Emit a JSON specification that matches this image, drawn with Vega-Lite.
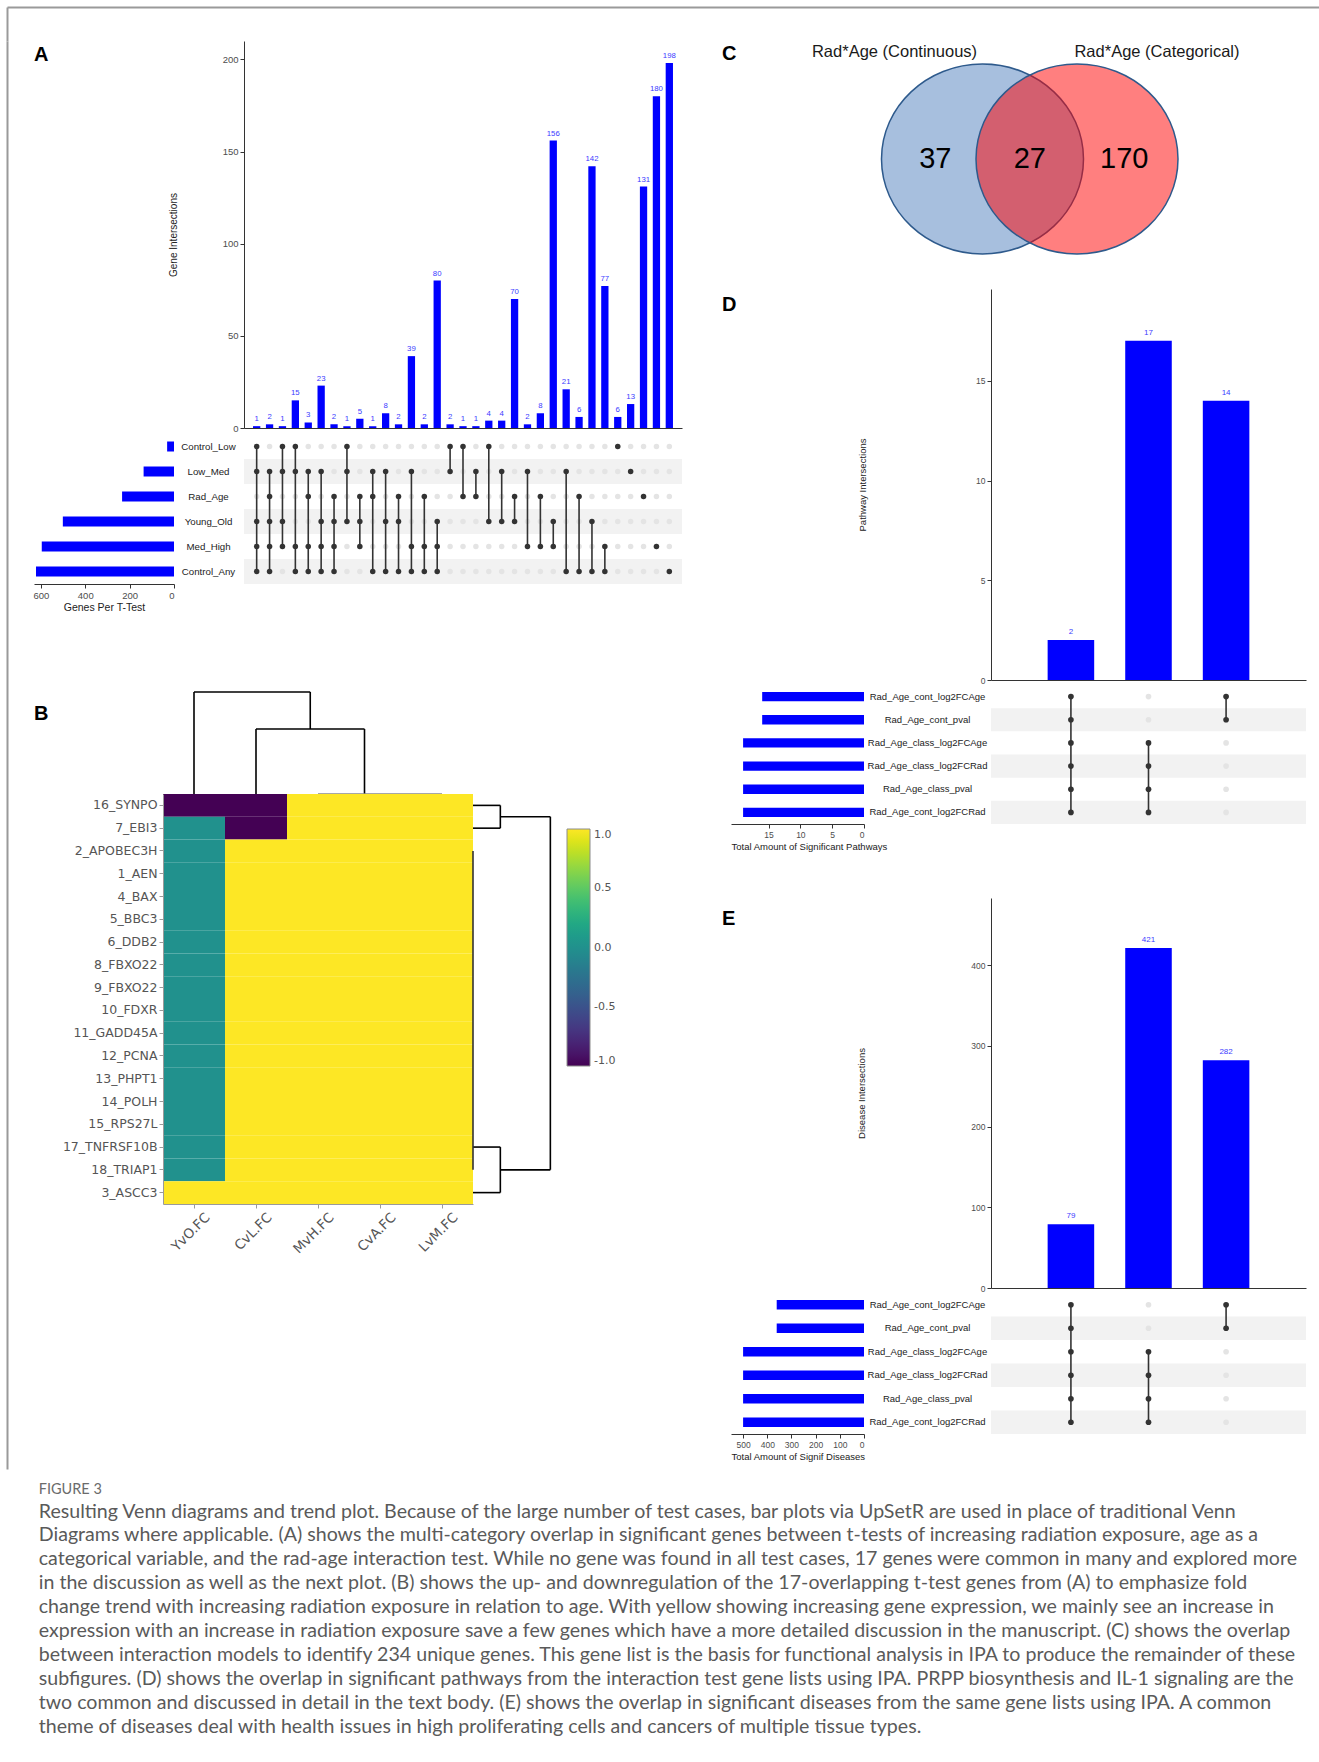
{
"$schema": "https://vega.github.io/schema/vega-lite/v6.json",
"padding": {"left": 4, "top": 7, "right": 0, "bottom": 10},
"background": "white",
"config": {
 "view": {"stroke": null},
 "font": "Liberation Sans",
 "text": {"font": "Liberation Sans"},
 "axis": {"labelFont": "Liberation Sans", "titleFont": "Liberation Sans", "labelFontSize": 9.5, "titleFontSize": 10, "labelColor": "#4d4d4d", "titleColor": "#222222", "titleFontWeight": "normal", "domainColor": "#333333", "tickColor": "#333333", "grid": false, "tickSize": 4, "labelPadding": 2}
},
"datasets": {
 "frame": [{"v": 0}],
 "a_combos": [
  {"col":1,"count":1,"Control_Low":1,"Low_Med":1,"Rad_Age":0,"Young_Old":1,"Med_High":1,"Control_Any":1},
  {"col":2,"count":2,"Control_Low":0,"Low_Med":1,"Rad_Age":1,"Young_Old":1,"Med_High":1,"Control_Any":1},
  {"col":3,"count":1,"Control_Low":1,"Low_Med":1,"Rad_Age":0,"Young_Old":1,"Med_High":1,"Control_Any":0},
  {"col":4,"count":15,"Control_Low":1,"Low_Med":1,"Rad_Age":0,"Young_Old":0,"Med_High":1,"Control_Any":1},
  {"col":5,"count":3,"Control_Low":0,"Low_Med":1,"Rad_Age":1,"Young_Old":0,"Med_High":1,"Control_Any":1},
  {"col":6,"count":23,"Control_Low":0,"Low_Med":1,"Rad_Age":0,"Young_Old":1,"Med_High":1,"Control_Any":1},
  {"col":7,"count":2,"Control_Low":0,"Low_Med":0,"Rad_Age":1,"Young_Old":1,"Med_High":1,"Control_Any":1},
  {"col":8,"count":1,"Control_Low":1,"Low_Med":1,"Rad_Age":0,"Young_Old":1,"Med_High":0,"Control_Any":0},
  {"col":9,"count":5,"Control_Low":0,"Low_Med":0,"Rad_Age":1,"Young_Old":1,"Med_High":1,"Control_Any":0},
  {"col":10,"count":1,"Control_Low":0,"Low_Med":1,"Rad_Age":1,"Young_Old":0,"Med_High":0,"Control_Any":1},
  {"col":11,"count":8,"Control_Low":0,"Low_Med":1,"Rad_Age":0,"Young_Old":1,"Med_High":0,"Control_Any":1},
  {"col":12,"count":2,"Control_Low":0,"Low_Med":0,"Rad_Age":1,"Young_Old":1,"Med_High":0,"Control_Any":1},
  {"col":13,"count":39,"Control_Low":0,"Low_Med":1,"Rad_Age":0,"Young_Old":0,"Med_High":1,"Control_Any":1},
  {"col":14,"count":2,"Control_Low":0,"Low_Med":0,"Rad_Age":1,"Young_Old":0,"Med_High":1,"Control_Any":1},
  {"col":15,"count":80,"Control_Low":0,"Low_Med":0,"Rad_Age":0,"Young_Old":1,"Med_High":1,"Control_Any":1},
  {"col":16,"count":2,"Control_Low":1,"Low_Med":1,"Rad_Age":0,"Young_Old":0,"Med_High":0,"Control_Any":0},
  {"col":17,"count":1,"Control_Low":1,"Low_Med":0,"Rad_Age":1,"Young_Old":0,"Med_High":0,"Control_Any":0},
  {"col":18,"count":1,"Control_Low":0,"Low_Med":1,"Rad_Age":1,"Young_Old":0,"Med_High":0,"Control_Any":0},
  {"col":19,"count":4,"Control_Low":1,"Low_Med":0,"Rad_Age":0,"Young_Old":1,"Med_High":0,"Control_Any":0},
  {"col":20,"count":4,"Control_Low":0,"Low_Med":1,"Rad_Age":0,"Young_Old":1,"Med_High":0,"Control_Any":0},
  {"col":21,"count":70,"Control_Low":0,"Low_Med":0,"Rad_Age":1,"Young_Old":1,"Med_High":0,"Control_Any":0},
  {"col":22,"count":2,"Control_Low":0,"Low_Med":1,"Rad_Age":0,"Young_Old":0,"Med_High":1,"Control_Any":0},
  {"col":23,"count":8,"Control_Low":0,"Low_Med":0,"Rad_Age":1,"Young_Old":0,"Med_High":1,"Control_Any":0},
  {"col":24,"count":156,"Control_Low":0,"Low_Med":0,"Rad_Age":0,"Young_Old":1,"Med_High":1,"Control_Any":0},
  {"col":25,"count":21,"Control_Low":0,"Low_Med":1,"Rad_Age":0,"Young_Old":0,"Med_High":0,"Control_Any":1},
  {"col":26,"count":6,"Control_Low":0,"Low_Med":0,"Rad_Age":1,"Young_Old":0,"Med_High":0,"Control_Any":1},
  {"col":27,"count":142,"Control_Low":0,"Low_Med":0,"Rad_Age":0,"Young_Old":1,"Med_High":0,"Control_Any":1},
  {"col":28,"count":77,"Control_Low":0,"Low_Med":0,"Rad_Age":0,"Young_Old":0,"Med_High":1,"Control_Any":1},
  {"col":29,"count":6,"Control_Low":1,"Low_Med":0,"Rad_Age":0,"Young_Old":0,"Med_High":0,"Control_Any":0},
  {"col":30,"count":13,"Control_Low":0,"Low_Med":1,"Rad_Age":0,"Young_Old":0,"Med_High":0,"Control_Any":0},
  {"col":31,"count":131,"Control_Low":0,"Low_Med":0,"Rad_Age":1,"Young_Old":0,"Med_High":0,"Control_Any":0},
  {"col":32,"count":180,"Control_Low":0,"Low_Med":0,"Rad_Age":0,"Young_Old":0,"Med_High":1,"Control_Any":0},
  {"col":33,"count":198,"Control_Low":0,"Low_Med":0,"Rad_Age":0,"Young_Old":0,"Med_High":0,"Control_Any":1}
 ],
 "a_sets": [
  {"set":"Control_Low","order":0,"size":31},
  {"set":"Low_Med","order":1,"size":137},
  {"set":"Rad_Age","order":2,"size":234},
  {"set":"Young_Old","order":3,"size":501},
  {"set":"Med_High","order":4,"size":596},
  {"set":"Control_Any","order":5,"size":622}
 ],
 "d_combos": [
  {"col":1,"count":2,"Rad_Age_cont_log2FCAge":1,"Rad_Age_cont_pval":1,"Rad_Age_class_log2FCAge":1,"Rad_Age_class_log2FCRad":1,"Rad_Age_class_pval":1,"Rad_Age_cont_log2FCRad":1},
  {"col":2,"count":17,"Rad_Age_cont_log2FCAge":0,"Rad_Age_cont_pval":0,"Rad_Age_class_log2FCAge":1,"Rad_Age_class_log2FCRad":1,"Rad_Age_class_pval":1,"Rad_Age_cont_log2FCRad":1},
  {"col":3,"count":14,"Rad_Age_cont_log2FCAge":1,"Rad_Age_cont_pval":1,"Rad_Age_class_log2FCAge":0,"Rad_Age_class_log2FCRad":0,"Rad_Age_class_pval":0,"Rad_Age_cont_log2FCRad":0}
 ],
 "d_sets": [
  {"set":"Rad_Age_cont_log2FCAge","order":0,"size":16},
  {"set":"Rad_Age_cont_pval","order":1,"size":16},
  {"set":"Rad_Age_class_log2FCAge","order":2,"size":19},
  {"set":"Rad_Age_class_log2FCRad","order":3,"size":19},
  {"set":"Rad_Age_class_pval","order":4,"size":19},
  {"set":"Rad_Age_cont_log2FCRad","order":5,"size":19}
 ],
 "e_combos": [
  {"col":1,"count":79,"Rad_Age_cont_log2FCAge":1,"Rad_Age_cont_pval":1,"Rad_Age_class_log2FCAge":1,"Rad_Age_class_log2FCRad":1,"Rad_Age_class_pval":1,"Rad_Age_cont_log2FCRad":1},
  {"col":2,"count":421,"Rad_Age_cont_log2FCAge":0,"Rad_Age_cont_pval":0,"Rad_Age_class_log2FCAge":1,"Rad_Age_class_log2FCRad":1,"Rad_Age_class_pval":1,"Rad_Age_cont_log2FCRad":1},
  {"col":3,"count":282,"Rad_Age_cont_log2FCAge":1,"Rad_Age_cont_pval":1,"Rad_Age_class_log2FCAge":0,"Rad_Age_class_log2FCRad":0,"Rad_Age_class_pval":0,"Rad_Age_cont_log2FCRad":0}
 ],
 "e_sets": [
  {"set":"Rad_Age_cont_log2FCAge","order":0,"size":361},
  {"set":"Rad_Age_cont_pval","order":1,"size":361},
  {"set":"Rad_Age_class_log2FCAge","order":2,"size":500},
  {"set":"Rad_Age_class_log2FCRad","order":3,"size":500},
  {"set":"Rad_Age_class_pval","order":4,"size":500},
  {"set":"Rad_Age_cont_log2FCRad","order":5,"size":500}
 ],
 "b_heat": [
  {"gene":"16_SYNPO","YvO_FC":-1,"CvL_FC":-1,"MvH_FC":1,"CvA_FC":1,"LvM_FC":1},
  {"gene":"7_EBI3","YvO_FC":0,"CvL_FC":-1,"MvH_FC":1,"CvA_FC":1,"LvM_FC":1},
  {"gene":"2_APOBEC3H","YvO_FC":0,"CvL_FC":1,"MvH_FC":1,"CvA_FC":1,"LvM_FC":1},
  {"gene":"1_AEN","YvO_FC":0,"CvL_FC":1,"MvH_FC":1,"CvA_FC":1,"LvM_FC":1},
  {"gene":"4_BAX","YvO_FC":0,"CvL_FC":1,"MvH_FC":1,"CvA_FC":1,"LvM_FC":1},
  {"gene":"5_BBC3","YvO_FC":0,"CvL_FC":1,"MvH_FC":1,"CvA_FC":1,"LvM_FC":1},
  {"gene":"6_DDB2","YvO_FC":0,"CvL_FC":1,"MvH_FC":1,"CvA_FC":1,"LvM_FC":1},
  {"gene":"8_FBXO22","YvO_FC":0,"CvL_FC":1,"MvH_FC":1,"CvA_FC":1,"LvM_FC":1},
  {"gene":"9_FBXO22","YvO_FC":0,"CvL_FC":1,"MvH_FC":1,"CvA_FC":1,"LvM_FC":1},
  {"gene":"10_FDXR","YvO_FC":0,"CvL_FC":1,"MvH_FC":1,"CvA_FC":1,"LvM_FC":1},
  {"gene":"11_GADD45A","YvO_FC":0,"CvL_FC":1,"MvH_FC":1,"CvA_FC":1,"LvM_FC":1},
  {"gene":"12_PCNA","YvO_FC":0,"CvL_FC":1,"MvH_FC":1,"CvA_FC":1,"LvM_FC":1},
  {"gene":"13_PHPT1","YvO_FC":0,"CvL_FC":1,"MvH_FC":1,"CvA_FC":1,"LvM_FC":1},
  {"gene":"14_POLH","YvO_FC":0,"CvL_FC":1,"MvH_FC":1,"CvA_FC":1,"LvM_FC":1},
  {"gene":"15_RPS27L","YvO_FC":0,"CvL_FC":1,"MvH_FC":1,"CvA_FC":1,"LvM_FC":1},
  {"gene":"17_TNFRSF10B","YvO_FC":0,"CvL_FC":1,"MvH_FC":1,"CvA_FC":1,"LvM_FC":1},
  {"gene":"18_TRIAP1","YvO_FC":0,"CvL_FC":1,"MvH_FC":1,"CvA_FC":1,"LvM_FC":1},
  {"gene":"3_ASCC3","YvO_FC":1,"CvL_FC":1,"MvH_FC":1,"CvA_FC":1,"LvM_FC":1}
 ],
 "b_dtop": [
  {"x":0.5,"x2":0.5,"y":0,"y2":3.14,"kind":"merge"},
  {"x":0.5,"x2":2.375,"y":3.14,"y2":3.14,"kind":"merge"},
  {"x":2.375,"x2":2.375,"y":2,"y2":3.14,"kind":"merge"},
  {"x":1.5,"x2":1.5,"y":0,"y2":2,"kind":"merge"},
  {"x":1.5,"x2":3.25,"y":2,"y2":2,"kind":"merge"},
  {"x":3.25,"x2":3.25,"y":0,"y2":2,"kind":"merge"},
  {"x":2.5,"x2":4.5,"y":0,"y2":0,"kind":"tie"}
 ],
 "b_dright": [
  {"x":0,"x2":1,"y":0.5,"y2":0.5,"kind":"merge"},
  {"x":0,"x2":1,"y":1.5,"y2":1.5,"kind":"merge"},
  {"x":1,"x2":1,"y":0.5,"y2":1.5,"kind":"merge"},
  {"x":1,"x2":2.83,"y":1,"y2":1,"kind":"merge"},
  {"x":2.83,"x2":2.83,"y":1,"y2":16.5,"kind":"merge"},
  {"x":1,"x2":2.83,"y":16.5,"y2":16.5,"kind":"merge"},
  {"x":1,"x2":1,"y":15.5,"y2":17.5,"kind":"merge"},
  {"x":0,"x2":1,"y":15.5,"y2":15.5,"kind":"merge"},
  {"x":0,"x2":1,"y":17.5,"y2":17.5,"kind":"merge"},
  {"x":0,"x2":0,"y":2.5,"y2":16.5,"kind":"tie"}
 ],
 "venn_sets": [
  {"set":"Continuous","region":"cont","title":"Rad*Age (Continuous)"},
  {"set":"Categorical","region":"cat","title":"Rad*Age (Categorical)"}
 ],
 "venn_counts": [
  {"region":"cont_only","genes":37},
  {"region":"both","genes":27},
  {"region":"cat_only","genes":170}
 ]
},
"title": {
 "text": "FIGURE 3",
 "subtitle": [
  "Resulting Venn diagrams and trend plot. Because of the large number of test cases, bar plots via UpSetR are used in place of traditional Venn",
  "Diagrams where applicable. (A) shows the multi-category overlap in significant genes between t-tests of increasing radiation exposure, age as a",
  "categorical variable, and the rad-age interaction test. While no gene was found in all test cases, 17 genes were common in many and explored more",
  "in the discussion as well as the next plot. (B) shows the up- and downregulation of the 17-overlapping t-test genes from (A) to emphasize fold",
  "change trend with increasing radiation exposure in relation to age. With yellow showing increasing gene expression, we mainly see an increase in",
  "expression with an increase in radiation exposure save a few genes which have a more detailed discussion in the manuscript. (C) shows the overlap",
  "between interaction models to identify 234 unique genes. This gene list is the basis for functional analysis in IPA to produce the remainder of these",
  "subfigures. (D) shows the overlap in significant pathways from the interaction test gene lists using IPA. PRPP biosynthesis and IL-1 signaling are the",
  "two common and discussed in detail in the text body. (E) shows the overlap in significant diseases from the same gene lists using IPA. A common",
  "theme of diseases deal with health issues in high proliferating cells and cancers of multiple tissue types."
 ],
 "orient": "bottom", "anchor": "start", "frame": "bounds", "offset": 14, "dx": 34,
 "font": "Lato", "fontSize": 14.5, "fontWeight": "normal", "color": "#6b6b6b",
 "subtitleFont": "Lato", "subtitleFontSize": 19.6, "subtitleColor": "#5a5a5a", "subtitlePadding": 5, "subtitleLineHeight": 23.9
},
"spacing": 0,
"vconcat": [
 {"width": 1313, "height": 34, "data": {"name": "frame"},
  "mark": {"type": "point", "opacity": 0},
  "encoding": {
   "x": {"field": "v", "type": "quantitative", "axis": {"orient": "top", "labels": false, "ticks": false, "title": null, "domainColor": "#9a9a9a", "domainWidth": 2}},
   "y": {"field": "v", "type": "quantitative", "axis": {"orient": "left", "labels": false, "ticks": false, "title": null, "domainColor": "#9a9a9a", "domainWidth": 2}}
  }},
 {
  "spacing": 21,
  "hconcat": [
   {"width": 1, "height": 1428, "data": {"name": "frame"},
    "mark": {"type": "point", "opacity": 0},
    "encoding": {
     "y": {"field": "v", "type": "quantitative", "axis": {"orient": "left", "labels": false, "ticks": false, "title": null, "domainColor": "#9a9a9a", "domainWidth": 2}}
    }},
   {
    "spacing": 40,
    "hconcat": [
     {
      "spacing": 78,
      "vconcat": [
       {
        "columns": 2, "bounds": "flush", "spacing": {"row": 6, "column": 70},
        "concat": [
         {"width": 140, "height": 387, "data": {"values": []}, "mark": "point",
          "title": {"text": "A", "anchor": "start", "frame": "group", "baseline": "top", "offset": 0, "dy": 23.5, "fontSize": 20, "font": "Liberation Sans", "fontWeight": "bold", "color": "#000000"}},
         {"width": 438, "height": 387, "data": {"name": "a_combos"},
          "encoding": {
           "x": {"field": "col", "type": "ordinal", "scale": {"type": "band", "paddingInner": 0.435, "paddingOuter": 0.7}, "axis": {"title": null, "labels": false, "ticks": false, "domain": true}},
           "y": {"field": "count", "type": "quantitative", "scale": {"domain": [0, 210], "nice": false}, "axis": {"values": [0, 50, 100, 150, 200], "title": "Gene Intersections", "titlePadding": 44}}
          },
          "layer": [
           {"mark": {"type": "bar", "color": "#0000ff"}},
           {"mark": {"type": "text", "color": "#3c3cff", "fontSize": 7.8, "baseline": "bottom", "dy": -3}, "encoding": {"text": {"field": "count", "type": "quantitative"}}}
          ]},
         {"width": 140, "height": 150, "data": {"name": "a_sets"},
          "mark": {"type": "bar", "color": "#0000ff"},
          "encoding": {
           "y": {"field": "set", "type": "nominal", "scale": {"domain": ["Control_Low","Low_Med","Rad_Age","Young_Old","Med_High","Control_Any"], "paddingInner": 0.6, "paddingOuter": 0.3}, "axis": {"orient": "right", "title": null, "domain": false, "ticks": false, "tickSize": 0, "labelAlign": "center", "labelPadding": 34, "labelFontSize": 9.7, "labelColor": "#222222"}},
           "x": {"field": "size", "type": "quantitative", "scale": {"domain": [0, 631], "reverse": true, "nice": false}, "axis": {"values": [0, 200, 400, 600], "title": "Genes Per T-Test", "titlePadding": 3, "titleFontSize": 10.5}}
          }},
         {"width": 438, "height": 150,
          "layer": [
           {"data": {"name": "a_sets"}, "transform": [{"filter": "datum.order % 2 == 1"}],
            "mark": {"type": "rect", "color": "#f2f2f2"},
            "encoding": {"y": {"field": "set", "type": "nominal", "scale": {"type": "band", "domain": ["Control_Low","Low_Med","Rad_Age","Young_Old","Med_High","Control_Any"], "paddingInner": 0, "paddingOuter": 0}, "axis": null}}},
           {"data": {"name": "a_combos"}, "transform": [{"fold": ["Control_Low","Low_Med","Rad_Age","Young_Old","Med_High","Control_Any"], "as": ["set", "member"]}],
            "mark": {"type": "circle", "color": "#e4e4e4", "size": 30, "opacity": 1},
            "encoding": {"x": {"field": "col", "type": "ordinal", "scale": {"type": "band", "paddingInner": 0.435, "paddingOuter": 0.7}, "axis": null}, "y": {"field": "set", "type": "nominal"}}},
           {"data": {"name": "a_combos"}, "transform": [{"fold": ["Control_Low","Low_Med","Rad_Age","Young_Old","Med_High","Control_Any"], "as": ["set", "member"]}, {"filter": "datum.member == 1"}, {"lookup": "set", "from": {"data": {"name": "a_sets"}, "key": "set", "fields": ["order"]}}, {"aggregate": [{"op": "argmin", "field": "order", "as": "first"}, {"op": "argmax", "field": "order", "as": "last"}], "groupby": ["col"]}],
            "mark": {"type": "rule", "color": "#333333", "strokeWidth": 1.6},
            "encoding": {"x": {"field": "col", "type": "ordinal"}, "y": {"field": "first.set", "type": "nominal"}, "y2": {"field": "last.set"}}},
           {"data": {"name": "a_combos"}, "transform": [{"fold": ["Control_Low","Low_Med","Rad_Age","Young_Old","Med_High","Control_Any"], "as": ["set", "member"]}, {"filter": "datum.member == 1"}],
            "mark": {"type": "circle", "color": "#333333", "size": 30, "opacity": 1},
            "encoding": {"x": {"field": "col", "type": "ordinal"}, "y": {"field": "set", "type": "nominal"}}}
          ]}
        ]
       },
       {
        "columns": 3, "bounds": "flush", "spacing": 0,
        "concat": [
         {"width": 129, "height": 102, "data": {"values": []}, "mark": "point",
          "title": {"text": "B", "anchor": "start", "frame": "group", "baseline": "top", "offset": 0, "dy": 31.5, "fontSize": 20, "font": "Liberation Sans", "fontWeight": "bold", "color": "#000000"}},
         {"width": 310, "height": 102, "data": {"name": "b_dtop"},
          "mark": {"type": "rule", "strokeWidth": 1.6},
          "encoding": {
           "x": {"field": "x", "type": "quantitative", "scale": {"domain": [0, 5], "nice": false, "zero": false}, "axis": null},
           "x2": {"field": "x2"},
           "y": {"field": "y", "type": "quantitative", "scale": {"domain": [0, 3.14], "nice": false}, "axis": null},
           "y2": {"field": "y2"},
           "color": {"field": "kind", "type": "nominal", "scale": {"domain": ["merge", "tie"], "range": ["#000000", "#8a8a8a"]}, "legend": null}
          }},
         {"width": 82, "height": 102, "data": {"values": []}, "mark": "point"},
         {"width": 129, "height": 410, "data": {"values": []}, "mark": "point"},
         {"width": 310, "height": 410, "data": {"name": "b_heat"},
          "transform": [{"fold": ["YvO_FC","CvL_FC","MvH_FC","CvA_FC","LvM_FC"], "as": ["comparison", "value"]}],
          "mark": {"type": "rect"},
          "encoding": {
           "x": {"field": "comparison", "type": "nominal", "scale": {"domain": ["YvO_FC","CvL_FC","MvH_FC","CvA_FC","LvM_FC"], "paddingInner": 0, "paddingOuter": 0},
                 "axis": {"title": null, "labelAngle": -45, "labelAlign": "right", "labelBaseline": "top", "labelOffset": 9, "labelExpr": "replace(datum.label, '_', '.')", "labelFont": "DejaVu Sans", "labelFontSize": 13.5, "labelColor": "#555555", "domainColor": "#9a9a9a", "tickColor": "#9a9a9a"}},
           "y": {"field": "gene", "type": "nominal", "scale": {"domain": ["16_SYNPO","7_EBI3","2_APOBEC3H","1_AEN","4_BAX","5_BBC3","6_DDB2","8_FBXO22","9_FBXO22","10_FDXR","11_GADD45A","12_PCNA","13_PHPT1","14_POLH","15_RPS27L","17_TNFRSF10B","18_TRIAP1","3_ASCC3"], "paddingInner": 0, "paddingOuter": 0},
                 "axis": {"title": null, "labelFont": "DejaVu Sans", "labelFontSize": 12.5, "labelColor": "#555555", "domainColor": "#9a9a9a", "tickColor": "#9a9a9a"}},
           "color": {"field": "value", "type": "quantitative", "scale": {"scheme": "viridis", "domain": [-1, 1]},
                 "legend": {"orient": "none", "legendX": 404, "legendY": 35, "direction": "vertical", "title": null, "gradientLength": 237, "gradientThickness": 23, "values": [-1, -0.5, 0, 0.5, 1], "labelExpr": "datum.value < 0 ? '-' + format(-datum.value, '.1f') : format(datum.value, '.1f')", "labelFont": "DejaVu Sans", "labelFontSize": 11, "labelColor": "#555555", "gradientStrokeColor": "#8c8c8c", "gradientStrokeWidth": 1, "labelOffset": 4}}
          }},
         {"width": 82, "height": 410, "data": {"name": "b_dright"},
          "mark": {"type": "rule", "strokeWidth": 1.6},
          "encoding": {
           "x": {"field": "x", "type": "quantitative", "scale": {"domain": [0, 3], "nice": false, "zero": false}, "axis": null},
           "x2": {"field": "x2"},
           "y": {"field": "y", "type": "quantitative", "scale": {"domain": [0, 18], "nice": false, "reverse": true}, "axis": null},
           "y2": {"field": "y2"},
           "color": {"field": "kind", "type": "nominal", "scale": {"domain": ["merge", "tie"], "range": ["#000000", "#333333"]}, "legend": null}
          }}
        ]
       }
      ]
     },
     {
      "spacing": 12,
      "vconcat": [
       {
        "bounds": "flush", "spacing": 0,
        "hconcat": [
         {"width": 156.75, "height": 236, "data": {"values": []}, "mark": "point",
          "title": {"text": "C", "anchor": "start", "frame": "group", "baseline": "top", "offset": 0, "dy": 22.5, "dx": -9, "fontSize": 20, "font": "Liberation Sans", "fontWeight": "bold", "color": "#000000"}},
         {"width": 283.5, "height": 236,
          "encoding": {"x": {"field": "region", "type": "nominal", "scale": {"type": "point", "domain": ["cont_only","cont","both","cat","cat_only"], "padding": 1}, "axis": null}},
          "layer": [
           {"data": {"name": "venn_sets"},
            "mark": {"type": "point", "shape": "M-1,0C-1,-0.5191,-0.5523,-0.94,0,-0.94C0.5523,-0.94,1,-0.5191,1,0C1,0.5191,0.5523,0.94,0,0.94C-0.5523,0.94,-1,0.5191,-1,0Z", "filled": true, "size": 40804, "opacity": 1, "stroke": "#2e5a8c", "strokeWidth": 1.5},
            "encoding": {
             "fill": {"field": "set", "type": "nominal", "scale": {"domain": ["Continuous", "Categorical"], "range": ["#a7bfde", "#ff0000"]}, "legend": null},
             "fillOpacity": {"field": "set", "type": "nominal", "scale": {"domain": ["Continuous", "Categorical"], "range": [1, 0.5]}, "legend": null}
            }},
           {"data": {"name": "venn_counts"}, "mark": {"type": "text", "fontSize": 29, "color": "#000000"}, "encoding": {"text": {"field": "genes", "type": "quantitative"}}},
           {"data": {"name": "venn_sets"}, "transform": [{"filter": "datum.set == 'Continuous'"}], "mark": {"type": "text", "fontSize": 16.5, "color": "#1a1a1a", "dx": -88, "dy": -107}, "encoding": {"text": {"field": "title"}}},
           {"data": {"name": "venn_sets"}, "transform": [{"filter": "datum.set == 'Categorical'"}], "mark": {"type": "text", "fontSize": 16.5, "color": "#1a1a1a", "dx": 80, "dy": -107}, "encoding": {"text": {"field": "title"}}}
          ]}
        ]
       },
       {
        "columns": 2, "bounds": "flush", "spacing": {"row": 5, "column": 127},
        "concat": [
         {"width": 133, "height": 391, "data": {"values": []}, "mark": "point",
          "title": {"text": "D", "anchor": "start", "frame": "group", "baseline": "top", "offset": 0, "dy": 25.5, "dx": -9, "fontSize": 20, "font": "Liberation Sans", "fontWeight": "bold", "color": "#000000"}},
         {"width": 315, "height": 391, "data": {"name": "d_combos"},
          "encoding": {
           "x": {"field": "col", "type": "ordinal", "scale": {"type": "band", "paddingInner": 0.4, "paddingOuter": 0.73}, "axis": {"title": null, "labels": false, "ticks": false, "domain": true}},
           "y": {"field": "count", "type": "quantitative", "scale": {"domain": [0, 19.6], "nice": false}, "axis": {"values": [0, 5, 10, 15], "title": "Pathway Intersections", "titlePadding": 108, "labelFontSize": 8.5, "titleFontSize": 9.5}}
          },
          "layer": [
           {"mark": {"type": "bar", "color": "#0000ff"}},
           {"mark": {"type": "text", "color": "#3c3cff", "fontSize": 8, "baseline": "bottom", "dy": -4}, "encoding": {"text": {"field": "count", "type": "quantitative"}}}
          ]},
         {"width": 133, "height": 139, "data": {"name": "d_sets"},
          "mark": {"type": "bar", "color": "#0000ff"},
          "encoding": {
           "y": {"field": "set", "type": "nominal", "scale": {"domain": ["Rad_Age_cont_log2FCAge","Rad_Age_cont_pval","Rad_Age_class_log2FCAge","Rad_Age_class_log2FCRad","Rad_Age_class_pval","Rad_Age_cont_log2FCRad"], "paddingInner": 0.6, "paddingOuter": 0.3}, "axis": {"orient": "right", "title": null, "domain": false, "ticks": false, "tickSize": 0, "labelAlign": "center", "labelPadding": 63, "labelFontSize": 9.5, "labelColor": "#222222"}},
           "x": {"field": "size", "type": "quantitative", "scale": {"domain": [0, 20.9], "reverse": true, "nice": false}, "axis": {"values": [0, 5, 10, 15], "title": "Total Amount of Significant Pathways", "titleX": 0, "titleAlign": "left", "titlePadding": 3, "titleFontSize": 9.5, "labelFontSize": 8.5}}
          }},
         {"width": 315, "height": 139,
          "layer": [
           {"data": {"name": "d_sets"}, "transform": [{"filter": "datum.order % 2 == 1"}],
            "mark": {"type": "rect", "color": "#f2f2f2"},
            "encoding": {"y": {"field": "set", "type": "nominal", "scale": {"type": "band", "domain": ["Rad_Age_cont_log2FCAge","Rad_Age_cont_pval","Rad_Age_class_log2FCAge","Rad_Age_class_log2FCRad","Rad_Age_class_pval","Rad_Age_cont_log2FCRad"], "paddingInner": 0, "paddingOuter": 0}, "axis": null}}},
           {"data": {"name": "d_combos"}, "transform": [{"fold": ["Rad_Age_cont_log2FCAge","Rad_Age_cont_pval","Rad_Age_class_log2FCAge","Rad_Age_class_log2FCRad","Rad_Age_class_pval","Rad_Age_cont_log2FCRad"], "as": ["set", "member"]}],
            "mark": {"type": "circle", "color": "#e4e4e4", "size": 32, "opacity": 1},
            "encoding": {"x": {"field": "col", "type": "ordinal", "scale": {"type": "band", "paddingInner": 0.4, "paddingOuter": 0.73}, "axis": null}, "y": {"field": "set", "type": "nominal"}}},
           {"data": {"name": "d_combos"}, "transform": [{"fold": ["Rad_Age_cont_log2FCAge","Rad_Age_cont_pval","Rad_Age_class_log2FCAge","Rad_Age_class_log2FCRad","Rad_Age_class_pval","Rad_Age_cont_log2FCRad"], "as": ["set", "member"]}, {"filter": "datum.member == 1"}, {"lookup": "set", "from": {"data": {"name": "d_sets"}, "key": "set", "fields": ["order"]}}, {"aggregate": [{"op": "argmin", "field": "order", "as": "first"}, {"op": "argmax", "field": "order", "as": "last"}], "groupby": ["col"]}],
            "mark": {"type": "rule", "color": "#333333", "strokeWidth": 1.6},
            "encoding": {"x": {"field": "col", "type": "ordinal"}, "y": {"field": "first.set", "type": "nominal"}, "y2": {"field": "last.set"}}},
           {"data": {"name": "d_combos"}, "transform": [{"fold": ["Rad_Age_cont_log2FCAge","Rad_Age_cont_pval","Rad_Age_class_log2FCAge","Rad_Age_class_log2FCRad","Rad_Age_class_pval","Rad_Age_cont_log2FCRad"], "as": ["set", "member"]}, {"filter": "datum.member == 1"}],
            "mark": {"type": "circle", "color": "#333333", "size": 32, "opacity": 1},
            "encoding": {"x": {"field": "col", "type": "ordinal"}, "y": {"field": "set", "type": "nominal"}}}
          ]},
         {"width": 133, "height": 64, "data": {"values": []}, "mark": "point"},
         {"width": 315, "height": 64, "data": {"values": []}, "mark": "point"},
         {"width": 133, "height": 390, "data": {"values": []}, "mark": "point",
          "title": {"text": "E", "anchor": "start", "frame": "group", "baseline": "top", "offset": 0, "dy": 30.5, "dx": -9, "fontSize": 20, "font": "Liberation Sans", "fontWeight": "bold", "color": "#000000"}},
         {"width": 315, "height": 390, "data": {"name": "e_combos"},
          "encoding": {
           "x": {"field": "col", "type": "ordinal", "scale": {"type": "band", "paddingInner": 0.4, "paddingOuter": 0.73}, "axis": {"title": null, "labels": false, "ticks": false, "domain": true}},
           "y": {"field": "count", "type": "quantitative", "scale": {"domain": [0, 483], "nice": false}, "axis": {"values": [0, 100, 200, 300, 400], "title": "Disease Intersections", "titlePadding": 104, "labelFontSize": 8.5, "titleFontSize": 9.5}}
          },
          "layer": [
           {"mark": {"type": "bar", "color": "#0000ff"}},
           {"mark": {"type": "text", "color": "#3c3cff", "fontSize": 8, "baseline": "bottom", "dy": -4}, "encoding": {"text": {"field": "count", "type": "quantitative"}}}
          ]},
         {"width": 133, "height": 141, "data": {"name": "e_sets"},
          "mark": {"type": "bar", "color": "#0000ff"},
          "encoding": {
           "y": {"field": "set", "type": "nominal", "scale": {"domain": ["Rad_Age_cont_log2FCAge","Rad_Age_cont_pval","Rad_Age_class_log2FCAge","Rad_Age_class_log2FCRad","Rad_Age_class_pval","Rad_Age_cont_log2FCRad"], "paddingInner": 0.6, "paddingOuter": 0.3}, "axis": {"orient": "right", "title": null, "domain": false, "ticks": false, "tickSize": 0, "labelAlign": "center", "labelPadding": 63, "labelFontSize": 9.5, "labelColor": "#222222"}},
           "x": {"field": "size", "type": "quantitative", "scale": {"domain": [0, 550], "reverse": true, "nice": false}, "axis": {"values": [0, 100, 200, 300, 400, 500], "title": "Total Amount of Signif Diseases", "titleX": 0, "titleAlign": "left", "titlePadding": 3, "titleFontSize": 9.5, "labelFontSize": 8.5}}
          }},
         {"width": 315, "height": 141,
          "layer": [
           {"data": {"name": "e_sets"}, "transform": [{"filter": "datum.order % 2 == 1"}],
            "mark": {"type": "rect", "color": "#f2f2f2"},
            "encoding": {"y": {"field": "set", "type": "nominal", "scale": {"type": "band", "domain": ["Rad_Age_cont_log2FCAge","Rad_Age_cont_pval","Rad_Age_class_log2FCAge","Rad_Age_class_log2FCRad","Rad_Age_class_pval","Rad_Age_cont_log2FCRad"], "paddingInner": 0, "paddingOuter": 0}, "axis": null}}},
           {"data": {"name": "e_combos"}, "transform": [{"fold": ["Rad_Age_cont_log2FCAge","Rad_Age_cont_pval","Rad_Age_class_log2FCAge","Rad_Age_class_log2FCRad","Rad_Age_class_pval","Rad_Age_cont_log2FCRad"], "as": ["set", "member"]}],
            "mark": {"type": "circle", "color": "#e4e4e4", "size": 32, "opacity": 1},
            "encoding": {"x": {"field": "col", "type": "ordinal", "scale": {"type": "band", "paddingInner": 0.4, "paddingOuter": 0.73}, "axis": null}, "y": {"field": "set", "type": "nominal"}}},
           {"data": {"name": "e_combos"}, "transform": [{"fold": ["Rad_Age_cont_log2FCAge","Rad_Age_cont_pval","Rad_Age_class_log2FCAge","Rad_Age_class_log2FCRad","Rad_Age_class_pval","Rad_Age_cont_log2FCRad"], "as": ["set", "member"]}, {"filter": "datum.member == 1"}, {"lookup": "set", "from": {"data": {"name": "e_sets"}, "key": "set", "fields": ["order"]}}, {"aggregate": [{"op": "argmin", "field": "order", "as": "first"}, {"op": "argmax", "field": "order", "as": "last"}], "groupby": ["col"]}],
            "mark": {"type": "rule", "color": "#333333", "strokeWidth": 1.6},
            "encoding": {"x": {"field": "col", "type": "ordinal"}, "y": {"field": "first.set", "type": "nominal"}, "y2": {"field": "last.set"}}},
           {"data": {"name": "e_combos"}, "transform": [{"fold": ["Rad_Age_cont_log2FCAge","Rad_Age_cont_pval","Rad_Age_class_log2FCAge","Rad_Age_class_log2FCRad","Rad_Age_class_pval","Rad_Age_cont_log2FCRad"], "as": ["set", "member"]}, {"filter": "datum.member == 1"}],
            "mark": {"type": "circle", "color": "#333333", "size": 32, "opacity": 1},
            "encoding": {"x": {"field": "col", "type": "ordinal"}, "y": {"field": "set", "type": "nominal"}}}
          ]}
        ]
       }
      ]
     }
    ]
   }
  ]
 }
]
}
